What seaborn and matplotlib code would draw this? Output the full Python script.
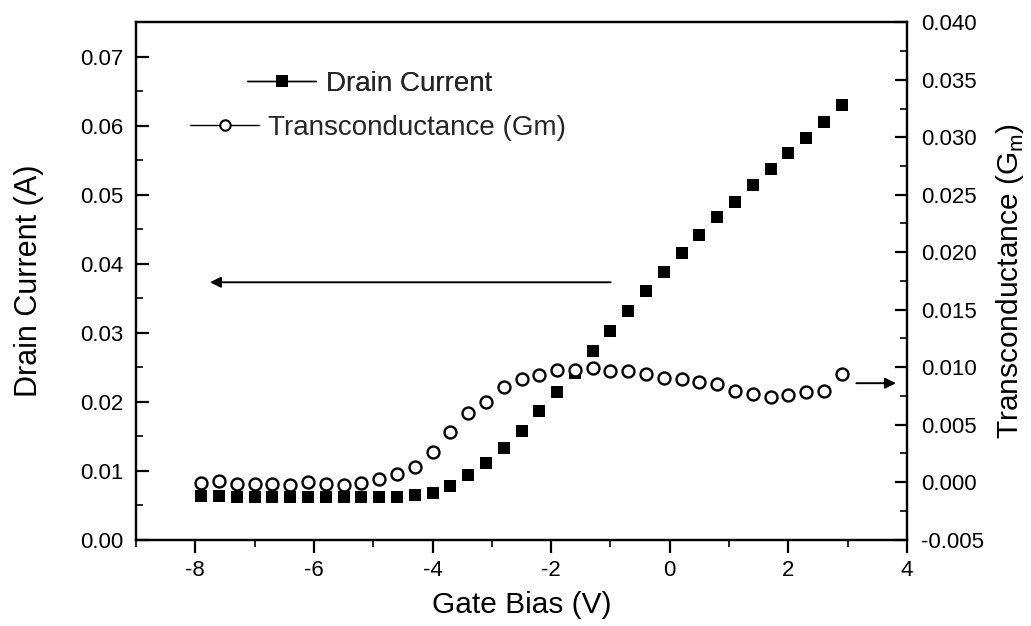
import matplotlib
matplotlib.use("Agg")
import matplotlib.pyplot as plt
from matplotlib.lines import Line2D
from matplotlib.ticker import MultipleLocator, FormatStrFormatter
import seaborn as sns
import pandas as pd

# ---- data ----
gate_bias = [-7.9, -7.6, -7.3, -7.0, -6.7, -6.4, -6.1, -5.8, -5.5, -5.2,
             -4.9, -4.6, -4.3, -4.0, -3.7, -3.4, -3.1, -2.8, -2.5, -2.2,
             -1.9, -1.6, -1.3, -1.0, -0.7, -0.4, -0.1, 0.2, 0.5, 0.8,
             1.1, 1.4, 1.7, 2.0, 2.3, 2.6, 2.9]
drain_current = [0.0063, 0.0063, 0.0062, 0.0062, 0.0062, 0.0062, 0.0062, 0.0062, 0.0062, 0.0061,
                 0.0061, 0.0062, 0.0065, 0.0068, 0.0078, 0.0093, 0.0111, 0.0133, 0.0158, 0.0186,
                 0.0214, 0.0242, 0.0273, 0.0303, 0.0331, 0.0360, 0.0388, 0.0415, 0.0441, 0.0467,
                 0.0490, 0.0514, 0.0537, 0.0560, 0.0582, 0.0605, 0.0630]
transconductance = [-0.00006, 0.00009, -0.0002, -0.0002, -0.00015, -0.00028, 0.0000, -0.00017, -0.00028, -0.00006,
                    0.00024, 0.0007, 0.00128, 0.00261, 0.00431, 0.0060, 0.0070, 0.00829, 0.00896, 0.00931,
                    0.00972, 0.00972, 0.00995, 0.00963, 0.00963, 0.00937, 0.00901, 0.00894, 0.00869, 0.0085,
                    0.0079, 0.00766, 0.00742, 0.00757, 0.00786, 0.00795, 0.00937]

legend_labels = ["Drain Current", "Transconductance (Gm)"]
x_label = "Gate Bias (V)"
y_left_label = "Drain Current (A)"
y_right_label = "Transconductance (G$_\\mathregular{m}$)"

df = pd.DataFrame({"V": gate_bias, "Id": drain_current, "Gm": transconductance})

sns.set_theme(style="ticks")
plt.rcParams["font.family"] = ["Liberation Sans", "DejaVu Sans"]
plt.rcParams["mathtext.fontset"] = "custom"
plt.rcParams["mathtext.rm"] = "Liberation Sans"
plt.rcParams["axes.unicode_minus"] = False

fig = plt.figure(figsize=(10.31, 6.26), dpi=100)
ax = fig.add_axes([136 / 1031, 1 - 539.5 / 626, (907 - 136) / 1031, (539.5 - 22.3) / 626])
ax2 = ax.twinx()

sns.lineplot(data=df, x="V", y="Id", ax=ax, marker="s", linestyle="none",
             color="black", markersize=9, markeredgewidth=0, legend=False)
sns.lineplot(data=df, x="V", y="Gm", ax=ax2, marker="o", linestyle="none",
             color="black", markersize=8.6, markerfacecolor="white",
             markeredgecolor="black", markeredgewidth=1.7, legend=False)

ax.set_xlim(-9, 4)
ax.set_ylim(0, 0.075)
ax2.set_ylim(-0.005, 0.040)

ax.xaxis.set_major_locator(MultipleLocator(2))
ax.xaxis.set_minor_locator(MultipleLocator(1))
ax.yaxis.set_major_locator(MultipleLocator(0.01))
ax.yaxis.set_minor_locator(MultipleLocator(0.005))
ax.yaxis.set_major_formatter(FormatStrFormatter("%.2f"))
ax2.yaxis.set_major_locator(MultipleLocator(0.005))
ax2.yaxis.set_minor_locator(MultipleLocator(0.0025))
ax2.yaxis.set_major_formatter(FormatStrFormatter("%.3f"))

for a in (ax, ax2):
    for s in a.spines.values():
        s.set_linewidth(1.6)
        s.set_color("black")

ax.tick_params(axis="x", which="major", direction="out", length=9, width=1.6,
               labelsize=16, pad=6, colors="black", top=False)
ax.tick_params(axis="x", which="minor", direction="out", length=5, width=1.4, top=False)
ax.tick_params(axis="y", which="major", direction="in", length=9, width=1.6,
               labelsize=16, pad=9, colors="black", right=False)
ax.tick_params(axis="y", which="minor", direction="in", length=5, width=1.4, right=False)
ax2.tick_params(axis="y", which="major", direction="in", length=9, width=1.6,
                labelsize=16, pad=10, colors="black")
ax2.tick_params(axis="y", which="minor", direction="in", length=5, width=1.4)

ax.set_xlabel(x_label, fontsize=21.5, labelpad=7, color="black")
ax.set_ylabel(y_left_label, fontsize=22, labelpad=26, color="black")
ax2.set_ylabel(y_right_label, fontsize=21.5, labelpad=7, color="black")

# arrows pointing to the relevant axes
ax.annotate("", xy=(-7.8, 0.0373), xytext=(-0.95, 0.0373),
            arrowprops=dict(arrowstyle="-|>", color="black", lw=1.4, mutation_scale=16))
ax2.annotate("", xy=(3.86, 0.0086), xytext=(3.1, 0.0086),
             arrowprops=dict(arrowstyle="-|>", color="black", lw=1.4, mutation_scale=16))

# legend entries (Origin style, individually placed)
h1 = Line2D([], [], color="black", lw=1.0, marker="s", markersize=8,
            markerfacecolor="black", markeredgewidth=0)
h2 = Line2D([], [], color="black", lw=1.0, marker="o", markersize=7.5,
            markerfacecolor="white", markeredgecolor="black", markeredgewidth=1.5)
leg1 = fig.legend([h1], [legend_labels[0]], loc="center left",
                  bbox_to_anchor=(247 / 1031, 1 - 84 / 626), frameon=False,
                  fontsize=20, handlelength=2.5, handletextpad=0.35,
                  borderpad=0, borderaxespad=0)
leg2 = fig.legend([h2], [legend_labels[1]], loc="center left",
                  bbox_to_anchor=(190 / 1031, 1 - 128 / 626), frameon=False,
                  fontsize=20, handlelength=2.5, handletextpad=0.3,
                  borderpad=0, borderaxespad=0)
fig.add_artist(leg1)

fig.savefig("out.png", dpi=100)
